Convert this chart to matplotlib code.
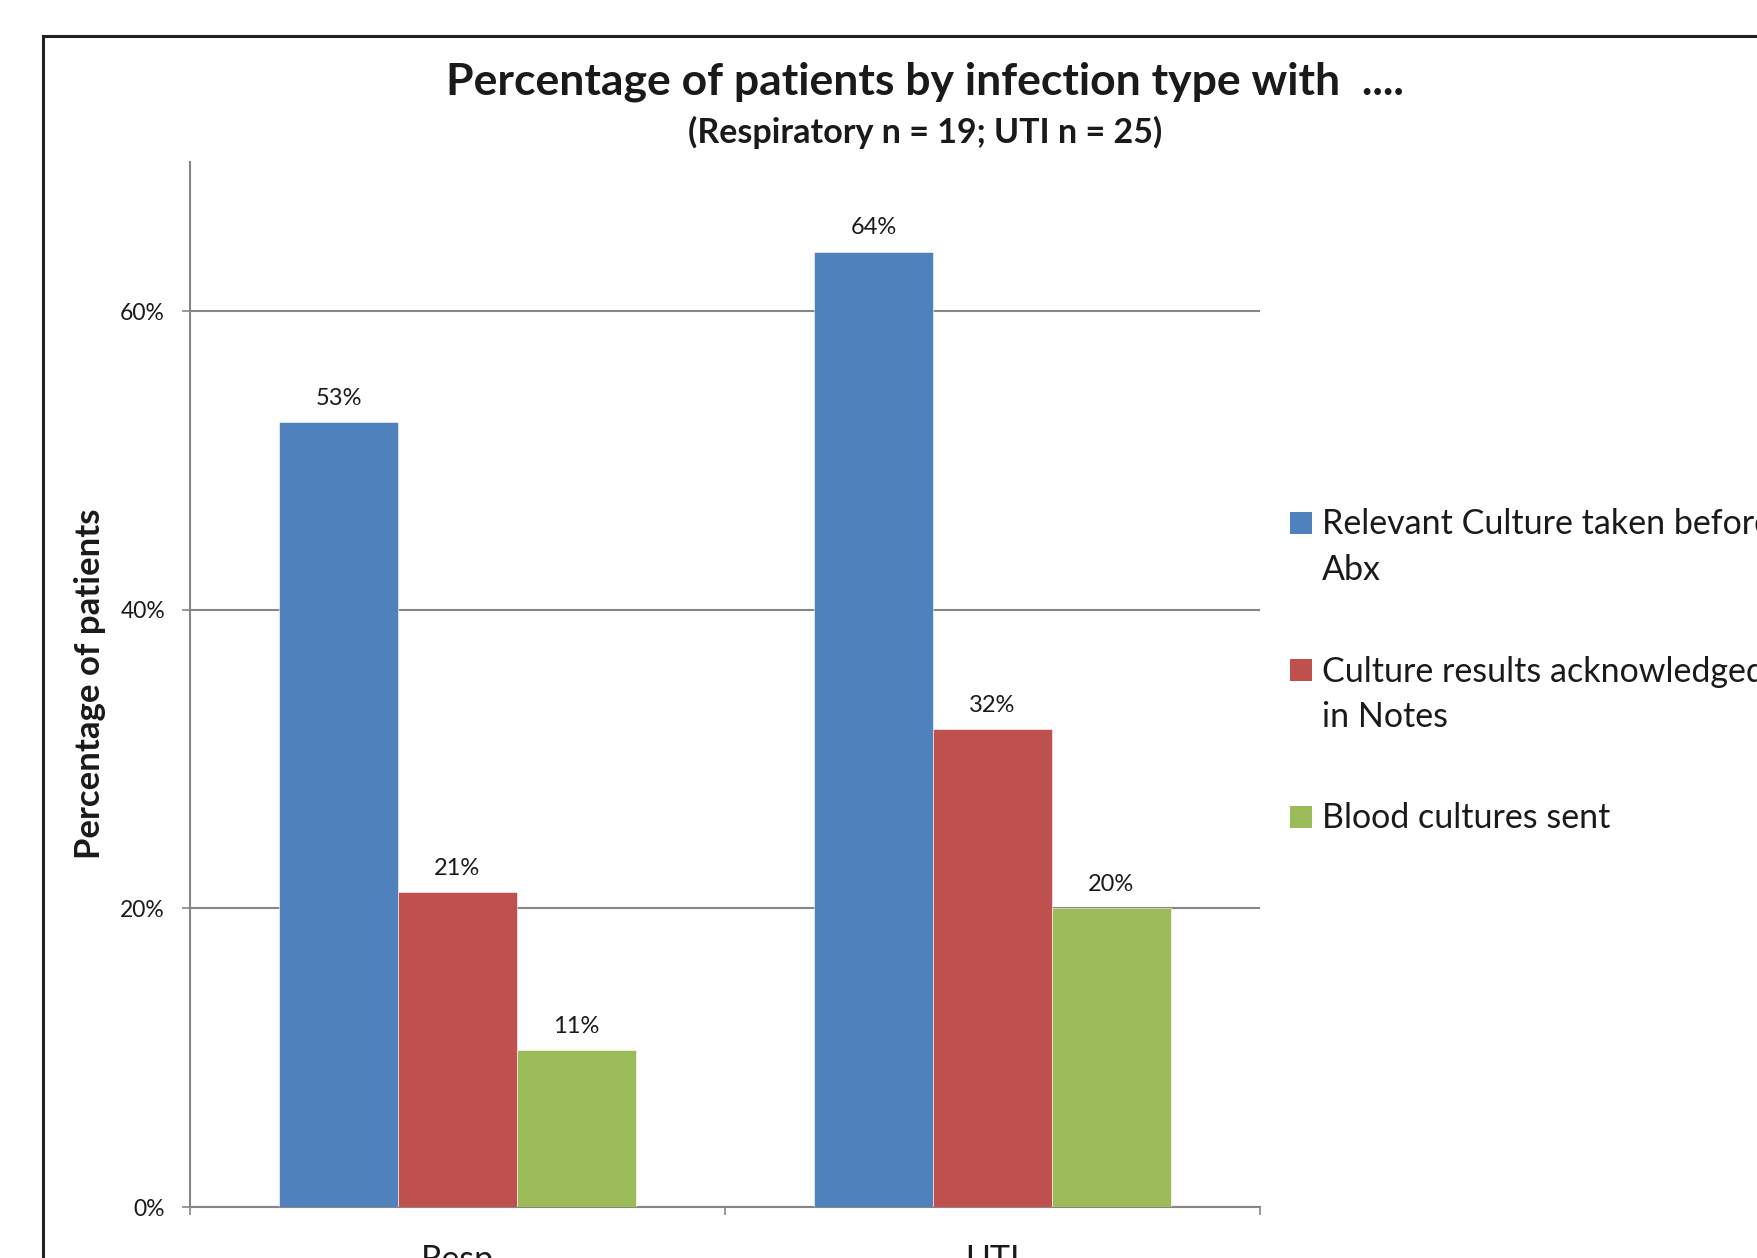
import matplotlib.pyplot as plt
from matplotlib.lines import Line2D
from matplotlib.patches import Rectangle
from matplotlib.ticker import FixedLocator, FuncFormatter

plt.rcParams["font.family"] = ["Lato", "DejaVu Sans"]

categories = ["Resp", "UTI"]
series_names = [
    "Relevant Culture taken before\nAbx",
    "Culture results acknowledged\nin Notes",
    "Blood cultures sent",
]
# percentages of patients (Resp n = 19, UTI n = 25)
values = [
    [52.6, 64.0],
    [21.1, 32.0],
    [10.5, 20.0],
]
bar_labels = [
    ["53%", "64%"],
    ["21%", "32%"],
    ["11%", "20%"],
]
colors = ["#4F81BD", "#C0504D", "#9BBB59"]

W, H = 1757, 1258
fig = plt.figure(figsize=(W / 100, H / 100), dpi=100)
ax = fig.add_axes([190 / W, 1 - 1207 / H, 1070 / W, 1045 / H])

grid_col = "#868686"
text_col = "#1a1a1a"
bar_w = 0.222
x = list(range(len(categories)))

for i, (name, vals) in enumerate(zip(series_names, values)):
    xs = [c + (i - 1) * bar_w for c in x]
    bars = ax.bar(xs, vals, width=bar_w, color=colors[i], label=name,
                  edgecolor="white", linewidth=0.4, zorder=3)
    for b, lab in zip(bars, bar_labels[i]):
        ax.annotate(lab, (b.get_x() + b.get_width() / 2, b.get_height()),
                    xytext=(0, 9.5), textcoords="offset points",
                    ha="center", va="bottom", fontsize=17, color=text_col)

ax.set_xlim(-0.5, 1.5)
ax.set_ylim(0, 70)
ax.set_yticks([0, 20, 40, 60])
ax.yaxis.set_major_formatter(FuncFormatter(lambda v, p: f"{v:.0f}%"))
ax.grid(axis="y", color=grid_col, linewidth=1.5, zorder=0)
ax.tick_params(axis="y", length=6, width=1.2, color=grid_col, pad=12,
               labelsize=16.5, labelcolor=text_col)

ax.set_xticks(x)
ax.set_xticklabels(categories)
ax.xaxis.set_minor_locator(FixedLocator([-0.5, 0.5, 1.5]))
ax.tick_params(axis="x", which="major", length=0, pad=27, labelsize=24.5,
               labelcolor=text_col)
ax.tick_params(axis="x", which="minor", length=6, width=1.2, color=grid_col)

for s in ["top", "right"]:
    ax.spines[s].set_visible(False)
for s in ["left", "bottom"]:
    ax.spines[s].set_color(grid_col)
    ax.spines[s].set_linewidth(1.5)

# legend on the right, marker level with the first line of each label
legend_rows = [523, 670, 817]
for c, name, yc in zip(colors, series_names, legend_rows):
    fig.add_artist(Rectangle((1290 / W, 1 - (yc + 11) / H), 22 / W, 22 / H,
                             transform=fig.transFigure, facecolor=c,
                             edgecolor="none"))
    fig.text(1322 / W, 1 - (yc - 14.5) / H, name, ha="left", va="top",
             fontsize=24.5, linespacing=1.51, color=text_col)

fig.text(90 / W, 1 - 684 / H, "Percentage of patients",
         rotation=90, ha="center", va="center", fontsize=25, fontweight="bold",
         color=text_col)
fig.text(925 / W, 1 - 82 / H, "Percentage of patients by infection type with  ....",
         ha="center", va="center", fontsize=32, fontweight="bold", color=text_col)
fig.text(925 / W, 1 - 132 / H, "(Respiratory n = 19; UTI n = 25)",
         ha="center", va="center", fontsize=24.5, fontweight="bold", color=text_col)

# outer chart border
fig.add_artist(Line2D([43 / W, 1.0], [1 - 36 / H, 1 - 36 / H],
                      transform=fig.transFigure, color="#222222", linewidth=2.2))
fig.add_artist(Line2D([43 / W, 43 / W], [1 - 36 / H, 0.0],
                      transform=fig.transFigure, color="#222222", linewidth=2.2))

fig.savefig("out.png", dpi=100)
